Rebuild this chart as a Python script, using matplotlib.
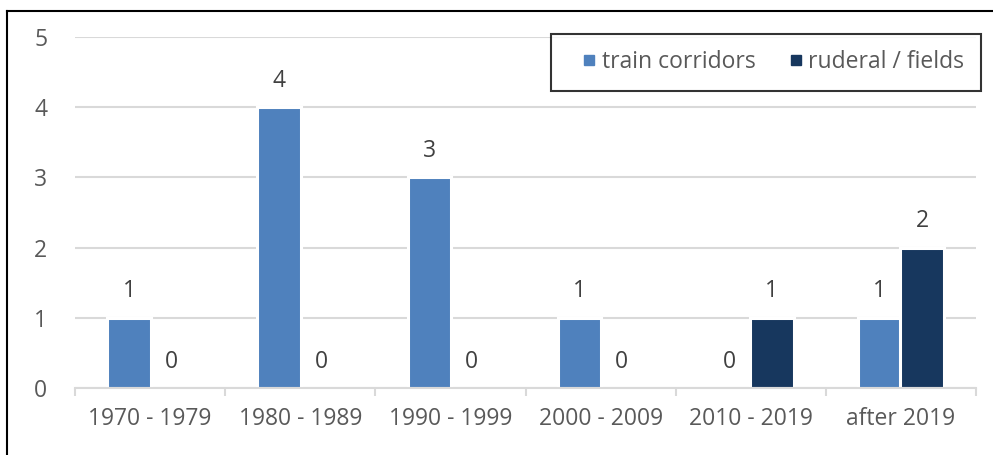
import matplotlib
matplotlib.use('Agg')
import matplotlib.pyplot as plt
from matplotlib.lines import Line2D
import numpy as np

# data
categories = ['1970 - 1979', '1980 - 1989', '1990 - 1999', '2000 - 2009', '2010 - 2019', 'after 2019']
train = [1, 4, 3, 1, 0, 1]
ruderal = [0, 0, 0, 0, 1, 2]
series_names = ['train corridors', 'ruderal / fields']

blue = '#4F81BD'
navy = '#17375E'
grey_txt = '#595959'
fs = 16.5

plt.rcParams['font.family'] = ['Open Sans', 'DejaVu Sans']

width, height, dpi = 993, 455, 100
fig = plt.figure(figsize=(width / dpi, height / dpi), dpi=dpi)
ax = fig.add_axes([75 / 993, 1 - 388 / 455, (976 - 75) / 993, (388 - 37) / 455])

x = np.arange(len(categories))
bw = 0.29
b1 = ax.bar(x - 0.14, train, bw, color=blue, edgecolor='white', linewidth=2.2, zorder=3)
b2 = ax.bar(x + 0.14, ruderal, bw, color=navy, edgecolor='white', linewidth=2.2, zorder=3)

for bars, vals in ((b1, train), (b2, ruderal)):
    for rect, v in zip(bars, vals):
        if v == 0:
            rect.set_linewidth(0)
        ax.annotate(str(v), (rect.get_x() + rect.get_width() / 2, v),
                    xytext=(0, 19), textcoords='offset points',
                    ha='center', va='center', fontsize=fs, color='#404040', zorder=4)

ax.set_xlim(-0.5, len(categories) - 0.5)
ax.set_ylim(0, 5)
ax.set_yticks(range(6))
ax.yaxis.grid(True, color='#D9D9D9', linewidth=1.5, zorder=0)
ax.set_axisbelow(True)

for s in ('top', 'right', 'left'):
    ax.spines[s].set_visible(False)
ax.spines['bottom'].set_color('#D9D9D9')
ax.spines['bottom'].set_linewidth(1.5)
ax.spines['bottom'].set_zorder(5)

ax.set_xticks(x)
ax.set_xticklabels(categories)
ax.set_xticks(np.arange(-0.5, len(categories)), minor=True)
ax.tick_params(axis='x', which='major', length=0, pad=14, labelsize=fs, labelcolor=grey_txt)
ax.tick_params(axis='x', which='minor', length=6, width=1.5, color='#D9D9D9')
ax.tick_params(axis='y', length=0, pad=20, labelsize=fs, labelcolor=grey_txt)

handles = [Line2D([], [], marker='s', linestyle='', markersize=6.5, color=blue),
           Line2D([], [], marker='s', linestyle='', markersize=6.5, color=navy)]
leg = ax.legend(handles, series_names, loc='upper right', ncol=2,
                bbox_to_anchor=(981 / 993, 1 - 34 / 455), bbox_transform=fig.transFigure,
                fontsize=fs, frameon=True, fancybox=False, edgecolor='black',
                handlelength=1.9, handletextpad=-0.4, columnspacing=0.8,
                borderpad=0.72, labelcolor=grey_txt, borderaxespad=0)
leg.get_frame().set_linewidth(1.5)

# outer chart border (left and top only visible in the crop)
fig.add_artist(Line2D([7 / 993, 7 / 993], [0, 1 - 11 / 455], color='black', linewidth=1.5,
                      transform=fig.transFigure))
fig.add_artist(Line2D([7 / 993, 1], [1 - 11 / 455, 1 - 11 / 455], color='black', linewidth=1.5,
                      transform=fig.transFigure))

fig.savefig('out.png', dpi=dpi)
